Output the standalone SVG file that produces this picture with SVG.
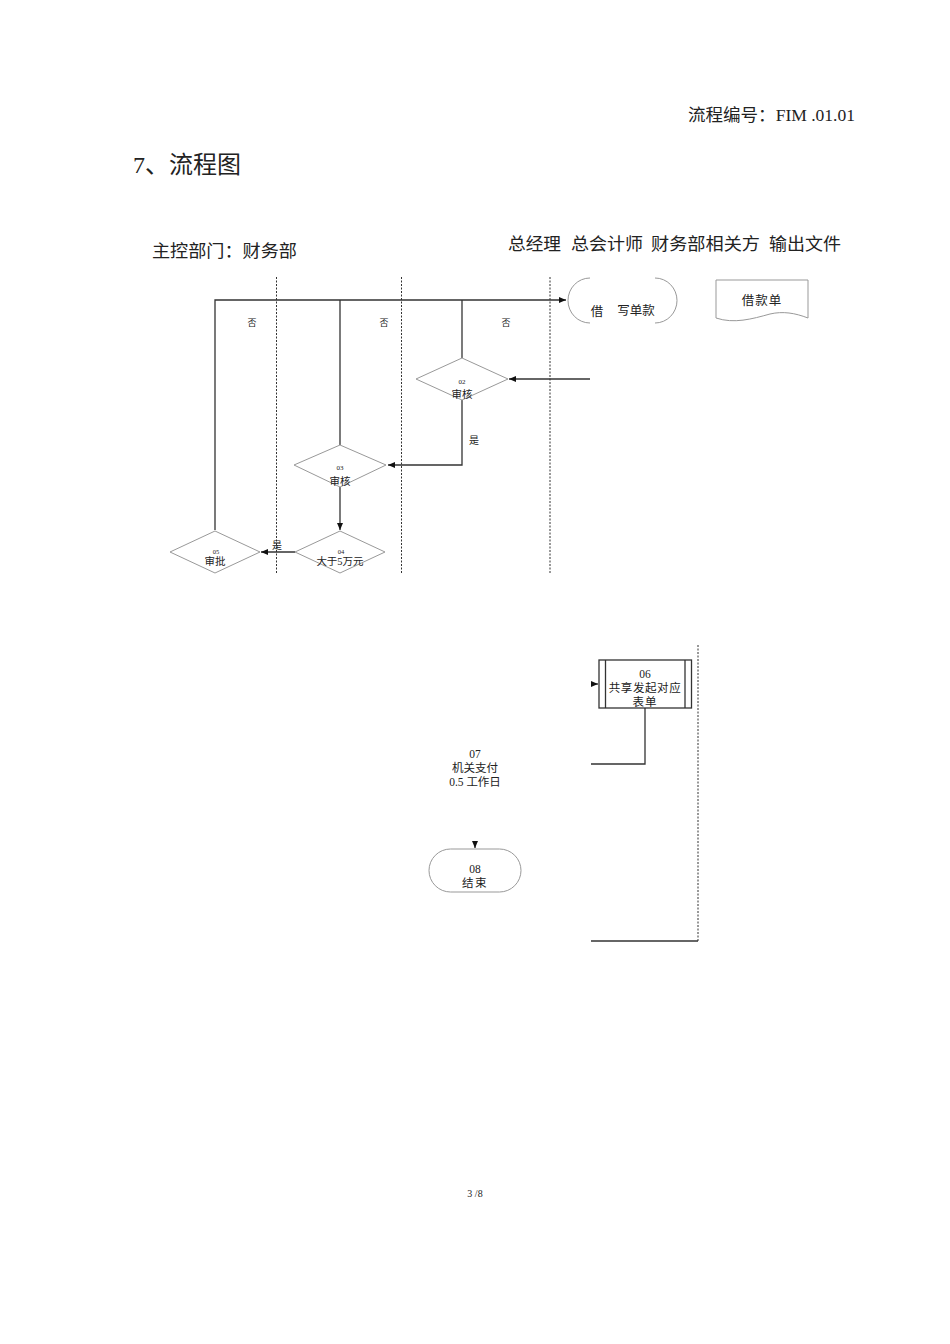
<svg xmlns="http://www.w3.org/2000/svg" width="950" height="1344" viewBox="0 0 950 1344">
<style>
.t{font-family:"Liberation Serif","Noto Sans CJK SC",serif;fill:#222}
.lane{stroke:#333;stroke-width:1;stroke-dasharray:2,1.5;fill:none}
.ln{stroke:#333;stroke-width:1.3;fill:none}
.shp{stroke:#999;stroke-width:1;fill:#fff}
.box{stroke:#333;stroke-width:1.3;fill:#fff}
</style>
<defs>
<marker id="ah" markerWidth="8" markerHeight="8" refX="7" refY="4" orient="auto" markerUnits="userSpaceOnUse">
<path d="M0,1 L7,4 L0,7 Z" fill="#111"/>
</marker>
<clipPath id="top"><rect x="0" y="0" width="950" height="574"/></clipPath>
</defs>
<rect width="950" height="1344" fill="#fff"/>

<text class="t" x="688" y="121" font-size="17" textLength="167" lengthAdjust="spacingAndGlyphs">流程编号：FIM .01.01</text>
<text class="t" x="133" y="173" font-size="24" textLength="108" lengthAdjust="spacingAndGlyphs">7、流程图</text>
<text class="t" x="152" y="257" font-size="17.5" textLength="145" lengthAdjust="spacingAndGlyphs">主控部门：财务部</text>
<g id="headers">
<text class="t" x="508" y="250" font-size="17.5" textLength="53" lengthAdjust="spacingAndGlyphs">总经理</text>
<text class="t" x="571" y="250" font-size="17.5" textLength="72" lengthAdjust="spacingAndGlyphs">总会计师</text>
<text class="t" x="651" y="250" font-size="17.5" textLength="109" lengthAdjust="spacingAndGlyphs">财务部相关方</text>
<text class="t" x="769" y="250" font-size="17.5" textLength="72" lengthAdjust="spacingAndGlyphs">输出文件</text>
</g>

<g clip-path="url(#top)">
<g id="lanes">
<line class="lane" x1="276.5" y1="277" x2="276.5" y2="574"/>
<line class="lane" x1="401.5" y1="277" x2="401.5" y2="574"/>
<line class="lane" x1="550" y1="277" x2="550" y2="574"/>
</g>

<g id="connectors">
<path class="ln" d="M215,530 V300 H566" marker-end="url(#ah)"/>
<line class="ln" x1="340" y1="300" x2="340" y2="445"/>
<line class="ln" x1="462" y1="300" x2="462" y2="358"/>
<line class="ln" x1="590" y1="379" x2="509" y2="379" marker-end="url(#ah)"/>
<path class="ln" d="M462,400 V465 H388" marker-end="url(#ah)"/>
<line class="ln" x1="340" y1="487" x2="340" y2="530" marker-end="url(#ah)"/>
<line class="ln" x1="295" y1="552" x2="261" y2="552" marker-end="url(#ah)"/>
<text class="t" x="252" y="326" font-size="9" text-anchor="middle">否</text>
<text class="t" x="384" y="326" font-size="9" text-anchor="middle">否</text>
<text class="t" x="506" y="326" font-size="9" text-anchor="middle">否</text>
<text class="t" x="474" y="444" font-size="10" text-anchor="middle">是</text>
<text class="t" x="277" y="549" font-size="10" text-anchor="middle">是</text>
</g>

<g id="n02">
<polygon class="shp" points="462,358 508,379 462,400 416,379"/>
<text class="t" x="462" y="384" font-size="7" text-anchor="middle">02</text>
<text class="t" x="462" y="398" font-size="10.5" text-anchor="middle">审核</text>
</g>
<g id="n03">
<polygon class="shp" points="340,445 386,465 340,487 294,465"/>
<text class="t" x="340" y="470" font-size="7" text-anchor="middle">03</text>
<text class="t" x="340" y="485" font-size="10.5" text-anchor="middle">审核</text>
</g>
<g id="n04">
<polygon class="shp" points="340,531 385,552 340,573 295,552"/>
<text class="t" x="341" y="554" font-size="6.5" text-anchor="middle">04</text>
<text class="t" x="340" y="565" font-size="10.5" text-anchor="middle">大于5万元</text>
</g>
<g id="n05">
<polygon class="shp" points="215,531 260,552 215,573 170,552"/>
<text class="t" x="216" y="554" font-size="6.5" text-anchor="middle">05</text>
<text class="t" x="215" y="565" font-size="10.5" text-anchor="middle">审批</text>
</g>
</g>

<g id="n01">
<path class="shp" d="M590,278 A22,22.5 0 0 0 590,323" style="fill:none"/>
<path class="shp" d="M655,278 A22,22.5 0 0 1 655,323" style="fill:none"/>
<text class="t" x="597" y="316" font-size="12.5" text-anchor="middle">借</text>
<text class="t" x="636" y="315" font-size="12.5" text-anchor="middle">写单款</text>
</g>

<g id="doc">
<path class="shp" d="M716,280 H808 V318 C795,313 783,311 770,314 C752,319 734,324 716,318 Z"/>
<text class="t" x="762" y="305" font-size="12.5" text-anchor="middle" letter-spacing="1">借款单</text>
</g>

<g id="connectors2">
<line class="lane" x1="698" y1="645" x2="698" y2="941"/>
<line class="ln" x1="591" y1="684" x2="598" y2="684" marker-end="url(#ah)"/>
<path class="ln" d="M645,708 V764 H591"/>
<line class="ln" x1="591" y1="941" x2="698" y2="941"/>
<line class="ln" x1="475" y1="842" x2="475" y2="848" marker-end="url(#ah)"/>
</g>

<g id="n06">
<rect class="box" x="599" y="660" width="92.5" height="48"/>
<line class="ln" x1="605.5" y1="660" x2="605.5" y2="708"/>
<line class="ln" x1="685" y1="660" x2="685" y2="708"/>
<text class="t" x="645" y="678" font-size="11.5" text-anchor="middle">06</text>
<text class="t" x="645" y="692" font-size="11.5" text-anchor="middle" letter-spacing="0.6">共享发起对应</text>
<text class="t" x="645" y="706" font-size="11.5" text-anchor="middle" letter-spacing="1">表单</text>
</g>

<g id="n07">
<text class="t" x="475" y="758" font-size="11.5" text-anchor="middle">07</text>
<text class="t" x="475" y="772" font-size="11.5" text-anchor="middle">机关支付</text>
<text class="t" x="475" y="786" font-size="11.5" text-anchor="middle">0.5 工作日</text>
</g>

<g id="n08">
<rect class="shp" x="429" y="849" width="92" height="43" rx="21.5" ry="21.5"/>
<text class="t" x="475" y="873" font-size="11.5" text-anchor="middle">08</text>
<text class="t" x="475" y="887" font-size="11.5" text-anchor="middle" letter-spacing="1.5">结束</text>
</g>

<text class="t" x="475" y="1197" font-size="10" text-anchor="middle">3 /8</text>
</svg>
